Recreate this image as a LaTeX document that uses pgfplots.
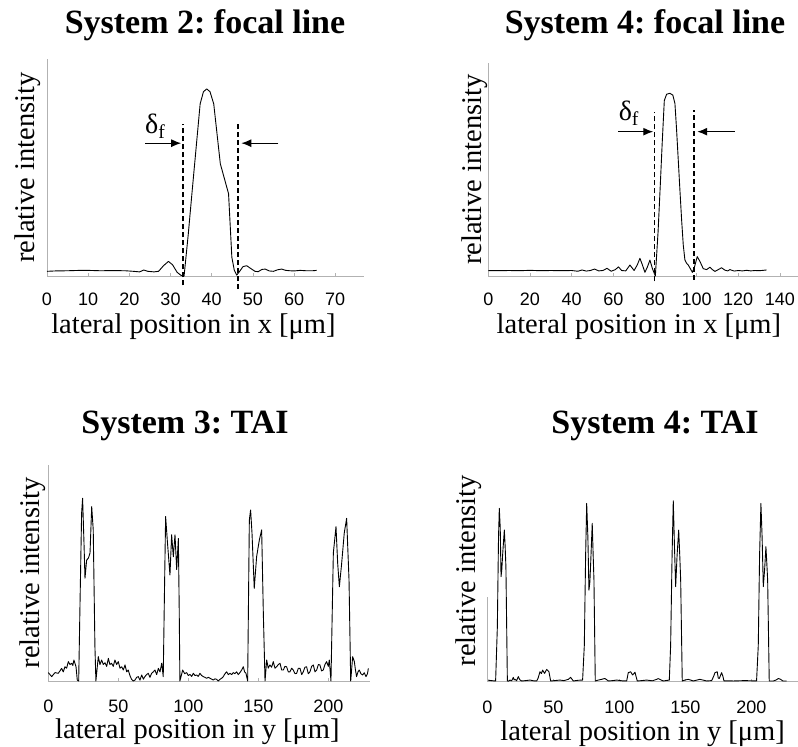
\documentclass[border=0pt]{standalone}
\usepackage{fontspec}
\setmainfont{Liberation Serif}
\newfontfamily\ticksans{Liberation Sans}
\usepackage{pgfplots}
\pgfplotsset{compat=1.18}
\usetikzlibrary{arrows.meta}
\frenchspacing

\pgfplotsset{
  panel/.style={
    scale only axis, clip=false,
    axis x line*=bottom, axis y line*=left,
    axis line style={gray!60, line width=0.6pt, -},
    ytick=\empty, ymin=0, xmin=0,
    tick align=inside, major tick length=3pt,
    tick style={gray!60, line width=0.5pt},
    xticklabel style={font=\ticksans\fontsize{18}{21}\selectfont, inner sep=1pt, text depth=0pt},
    /pgf/number format/assume math mode=true,
    label style={font=\fontsize{28.5}{34}\selectfont},
    xlabel style={inner sep=0pt, text height=0.7em},
  },
  curve/.style={black, line width=0.9pt, line join=round, mark=none},
}
\tikzset{
  dashmark/.style={black, line width=1.4pt, dash pattern=on 5pt off 3pt},
  arr/.style={black, line width=1.2pt, -{Latex[length=10pt,width=8pt]}},
  dlabel/.style={font=\fontsize{28}{30}\selectfont},
  ttl/.style={anchor=base, font=\bfseries\fontsize{34}{40}\selectfont},
}

\pgfplotstableread{
x y
0 0.025
2 0.027
5 0.028
8 0.030
10 0.030
13 0.028
16 0.029
19 0.028
21 0.025
22.5 0.022
23.5 0.032
24.5 0.025
26 0.022
27.1 0.025
28.3 0.055
29.5 0.078
30.5 0.060
31.6 0.020
32.5 0.004
33.3 0.0
34.3 0.22
35.2 0.44
36.2 0.68
37.2 0.92
38.0 0.985
38.8 1.0
39.6 0.985
40.5 0.92
41.3 0.76
42.1 0.60
43.1 0.52
44.1 0.44
44.5 0.27
44.9 0.10
45.5 0.03
46.1 0.005
46.8 0.025
47.6 0.050
48.5 0.055
49.5 0.040
50.5 0.025
51.3 0.023
52.2 0.035
53 0.037
54 0.027
55 0.025
56 0.033
57 0.037
58 0.030
59 0.028
60 0.027
61.5 0.030
63 0.028
64.5 0.028
65.5 0.030
}\dataA

\pgfplotstableread{
x y
0 0.029
5 0.029
10 0.030
15 0.029
20 0.031
25 0.029
30 0.030
35 0.029
40 0.030
43 0.026
45 0.033
47 0.027
49 0.030
51 0.038
53 0.028
55 0.030
57 0.042
59 0.026
61 0.035
62.5 0.050
64 0.030
66 0.028
68 0.060
70 0.030
71.5 0.060
72.8 0.097
74 0.060
75.2 0.020
76.4 0.050
77.6 0.087
78.8 0.040
80.2 0.0
81.5 0.24
82.5 0.48
83.5 0.73
84.5 0.96
85.6 0.995
87.2 1.0
88.6 0.99
89.6 0.945
90.4 0.80
91.2 0.635
92.0 0.47
92.8 0.31
93.6 0.17
94.4 0.087
95.2 0.07
96 0.06
97 0.04
98 0.02
99 0.05
100.3 0.106
101.6 0.08
103.2 0.04
104.8 0.035
106.4 0.048
107.6 0.035
108.8 0.025
110.4 0.035
112 0.045
113.6 0.032
115 0.028
116 0.035
118 0.027
120 0.030
122 0.028
124 0.031
126 0.028
128 0.030
130 0.029
132 0.031
133.6 0.033
}\dataB

\pgfplotstableread{
x y
0 0.046
2.4 0.024
4.8 0.046
7.1 0.042
8.3 0.055
9.5 0.069
10.7 0.05
11.9 0.078
13.1 0.07
14.3 0.106
15.5 0.09
16.7 0.097
17.5 0.085
18.3 0.115
19.8 0.078
20.7 0.005
21.7 0.0
22.6 0.4
23.8 0.918
24.5 1.0
25.5 0.754
26.2 0.562
27.4 0.662
28.6 0.672
29.8 0.70
31.0 0.954
32.1 0.827
33.3 0.19
34.0 0.0
35.7 0.133
36.9 0.09
38.1 0.115
39.3 0.09
40.5 0.10
41.7 0.08
42.9 0.124
44 0.09
45.2 0.097
46.4 0.08
47.6 0.115
48.8 0.09
50 0.106
51.2 0.07
52.4 0.078
53.6 0.06
54.8 0.088
56 0.05
57.1 0.06
58.3 0.03
59.5 0.009
60.7 0.0
61.9 0.005
63.1 0.02
64.3 0.024
65.5 0.005
66.7 0.033
67.9 0.01
69 0.024
70.2 0.035
71.4 0.042
72.6 0.02
73.8 0.042
75 0.05
76.2 0.06
77.4 0.035
78.6 0.069
79.8 0.05
81 0.097
82.1 0.024
83 0.5
83.8 0.9
85 0.77
86.9 0.58
88.1 0.80
89.3 0.68
90.5 0.80
91.7 0.61
92.9 0.78
93.5 0.4
94 0.0
96 0.06
97.4 0.04
98.8 0.046
100 0.03
101.2 0.036
102.4 0.025
103.6 0.042
104.8 0.03
106 0.033
107.1 0.025
108.3 0.042
109.5 0.03
110.7 0.024
111.9 0.02
113.1 0.015
114.3 0.02
115.5 0.015
116.7 0.01
117.9 0.005
119 0.012
120.2 0.009
121.4 0.0
122.6 0.009
123.8 0.015
125 0.024
126.2 0.04
127.4 0.05
128.6 0.035
129.8 0.042
131 0.035
132.1 0.046
133.3 0.04
134.5 0.05
135.7 0.035
136.9 0.046
138.1 0.06
139.3 0.078
140.2 0.05
141.2 0.042
142.4 0.0
143.6 0.88
144.5 0.936
145.5 0.81
147.1 0.507
148.8 0.68
150.7 0.77
152.4 0.827
153.6 0.37
154.8 0.0
156 0.115
157.1 0.07
158.3 0.088
159.5 0.075
160.7 0.106
161.9 0.07
163.1 0.078
164.3 0.09
165.5 0.097
166.7 0.06
167.9 0.06
169 0.08
170.2 0.078
171.4 0.05
172.6 0.05
173.8 0.07
175 0.06
176.2 0.04
177.4 0.042
178.6 0.07
179.8 0.069
181 0.035
182.1 0.05
183.3 0.075
184.5 0.078
185.7 0.04
186.9 0.05
188.1 0.08
189.3 0.088
190.5 0.05
191.7 0.06
192.9 0.09
194 0.088
195.2 0.055
196.4 0.06
197.6 0.09
198.8 0.106
200 0.08
200.7 0.115
201.9 0.0
203.6 0.70
205.5 0.845
206.7 0.644
207.9 0.516
209.5 0.64
211.4 0.81
213.1 0.89
214.8 0.553
216 0.0
217.4 0.133
218.6 0.106
219.4 0.06
220.2 0.024
221.2 0.05
222.1 0.06
223.3 0.04
224.5 0.033
225.7 0.045
226.9 0.024
228 0.04
228.6 0.069
}\dataC

\pgfplotstableread{
x y
0 0.009
3 0.006
6.3 0.004
7.6 0.3
8.5 0.8
9.1 0.958
9.8 0.85
10.4 0.58
11.0 0.62
11.6 0.7
12.9 0.838
13.5 0.75
14.1 0.635
15.2 0.004
16 0.003
17.2 0.009
18.5 0.005
19.7 0.024
20.3 0.01
21 0.013
22.2 0.006
23.5 0.028
24.7 0.01
26 0.004
29 0.006
32.3 0.009
35 0.005
37.4 0.004
38.5 0.02
39.9 0.055
41 0.045
41.9 0.064
43.4 0.046
45 0.068
46.7 0.055
48 0.004
51 0.006
55 0.009
58 0.006
61.4 0.013
63.1 0.024
65.2 0.004
69 0.008
72.2 0.009
73.5 0.2
74.5 0.7
75.3 0.985
76.2 0.8
77 0.506
77.7 0.55
78.3 0.65
79.5 0.875
80.2 0.7
80.8 0.563
81.8 0.004
84.1 0.009
86.6 0.013
89.1 0.018
91.7 0.004
95 0.006
98 0.009
102 0.005
105.6 0.004
106.8 0.05
108.6 0.055
110.1 0.037
111.9 0.052
113.6 0.004
117 0.006
120.7 0.009
125 0.005
128.3 0.013
129.5 0.017
133.3 0.004
137.9 0.009
138.9 0.2
140 0.7
140.9 1.0
141.8 0.75
142.7 0.525
143.8 0.7
145 0.838
145.8 0.7
146.5 0.563
147.7 0.004
149.7 0.009
152.3 0.013
156.1 0.004
161.1 0.013
166.2 0.004
170 0.006
171.5 0.03
172.5 0.05
174.2 0.055
175 0.02
175.8 0.018
177.5 0.05
178.5 0.03
179.3 0.004
183 0.005
186.4 0.004
195 0.006
200 0.005
204 0.004
205.3 0.2
206.3 0.7
207.3 0.985
208.2 0.8
209.1 0.525
210.1 0.62
211.1 0.746
211.8 0.65
212.4 0.563
213.6 0.004
216.7 0.004
219 0.01
220.5 0.018
222.2 0.013
224 0.004
226.8 0.004
}\dataD

\begin{document}
\begin{tikzpicture}
\path[use as bounding box] (0pt,0pt) rectangle (798pt,747pt);

% Titles
\node[ttl] at (205pt,713.7pt) {System 2: focal line};
\node[ttl] at (645pt,713.7pt) {System 4: focal line};
\node[ttl] at (185pt,313.7pt) {System 3: TAI};
\node[ttl] at (655pt,313.7pt) {System 4: TAI};

% Panel 1
\begin{axis}[panel, at={(47pt,471pt)}, anchor=south west,
  width=317pt, height=217pt, xmax=77, ymax=1.16,
  xtick={0,10,...,70},
  xticklabel style={yshift=-16pt},
  xlabel={lateral position in x [μm]},
  xlabel style={at={(axis description cs:0.462,-0.263)}, anchor=base},
  ylabel={relative intensity},
  ylabel style={at={(axis description cs:-0.060,0.5)}, anchor=center},
]
\addplot[curve] table[x=x,y=y] {\dataA};
\draw[dashmark] (axis cs:33.0,-0.05) -- (axis cs:33.0,0.81);
\draw[dashmark] (axis cs:46.4,-0.07) -- (axis cs:46.4,0.82);
\draw[arr] (axis cs:23.9,0.71) -- (axis cs:32.6,0.71);
\draw[arr] (axis cs:56.2,0.71) -- (axis cs:47.2,0.71);
\node[dlabel] at (axis cs:26.3,0.80) {δ\textsubscript{f}};
\end{axis}

% Panel 2
\begin{axis}[panel, at={(488.3pt,471pt)}, anchor=south west,
  width=309.3pt, height=213pt, xmax=148.5, ymax=1.166,
  xtick={0,20,...,140},
  xticklabel style={yshift=-16pt},
  xlabel={lateral position in x [μm]},
  xlabel style={at={(axis description cs:0.487,-0.268)}, anchor=base},
  ylabel={relative intensity},
  ylabel style={at={(axis description cs:-0.043,0.5)}, anchor=center},
]
\addplot[curve] table[x=x,y=y] {\dataB};
\draw[dashmark] (axis cs:79.7,-0.03) -- (axis cs:79.7,0.90);
\draw[dashmark] (axis cs:98.7,-0.02) -- (axis cs:98.7,0.91);
\draw[arr] (axis cs:62.4,0.79) -- (axis cs:79.2,0.79);
\draw[arr] (axis cs:118.4,0.79) -- (axis cs:100.3,0.79);
\node[dlabel] at (axis cs:67.5,0.89) {δ\textsubscript{f}};
\end{axis}

% Panel 3
\begin{axis}[panel, at={(48.3pt,66pt)}, anchor=south west,
  width=322pt, height=216pt, xmax=230, ymax=1.182,
  xtick={0,50,...,200},
  xticklabel style={yshift=-18pt},
  xlabel={lateral position in y [μm]},
  xlabel style={at={(axis description cs:0.463,-0.264)}, anchor=base},
  ylabel={relative intensity},
  ylabel style={at={(axis description cs:-0.047,0.5)}, anchor=center},
]
\addplot[curve] table[x=x,y=y] {\dataC};
\end{axis}

% Panel 4
\begin{axis}[panel, at={(487.3pt,65.3pt)}, anchor=south west,
  width=310.7pt, height=221.7pt, xmax=235.4, ymax=1.225,
  y axis line style={draw=none},
  xtick={0,50,...,200},
  xticklabel style={yshift=-18pt},
  xlabel={lateral position in y [μm]},
  xlabel style={at={(axis description cs:0.5,-0.263)}, anchor=base},
  ylabel={relative intensity},
  ylabel style={at={(axis description cs:-0.059,0.5)}, anchor=center},
]
\addplot[curve] table[x=x,y=y] {\dataD};
\draw[gray!60, line width=0.6pt] (axis cs:0,0) -- (axis cs:0,0.47);
\end{axis}
\end{tikzpicture}
\end{document}
